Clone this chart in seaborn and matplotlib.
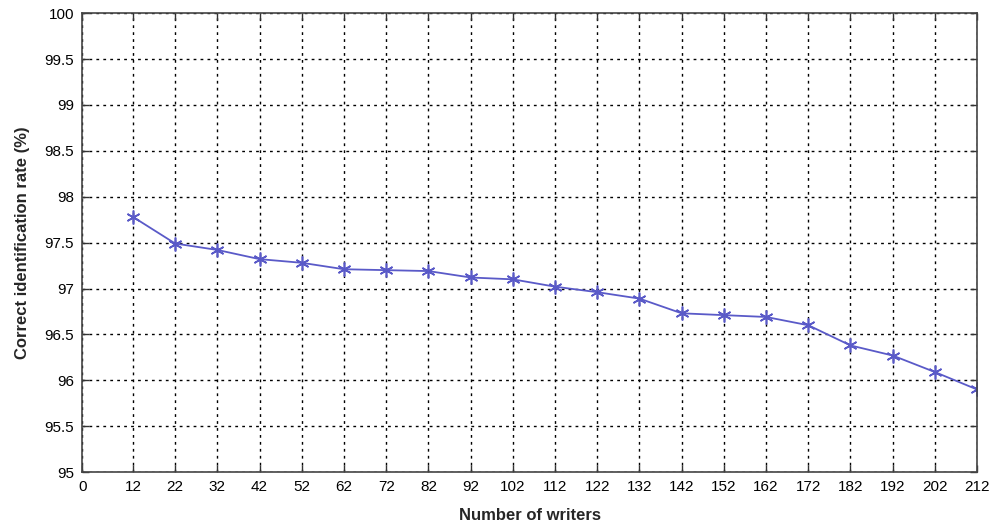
import matplotlib
matplotlib.use("Agg")
import matplotlib.pyplot as plt
import seaborn as sns
import numpy as np
import pandas as pd

writers = [12, 22, 32, 42, 52, 62, 72, 82, 92, 102, 112, 122, 132, 142, 152, 162, 172, 182, 192, 202, 212]
rate = [97.78, 97.49, 97.42, 97.32, 97.28, 97.21, 97.20, 97.19, 97.12, 97.10, 97.02, 96.96, 96.89,
        96.73, 96.71, 96.69, 96.60, 96.38, 96.27, 96.09, 95.90]
x_ticks = [0] + writers
y_ticks = [95, 95.5, 96, 96.5, 97, 97.5, 98, 98.5, 99, 99.5, 100]
y_labels = ['95', '95.5', '96', '96.5', '97', '97.5', '98', '98.5', '99', '99.5', '100']

df = pd.DataFrame({'writers': writers, 'rate': rate})

sns.set_style("ticks")
plt.rcParams['font.family'] = ['Liberation Sans', 'DejaVu Sans']

fig, ax = plt.subplots(figsize=(9.92, 5.24), dpi=100)
fig.subplots_adjust(left=0.083, right=0.985, top=0.975, bottom=0.099)

sns.lineplot(data=df, x='writers', y='rate', ax=ax, color='#5a5ac8', linewidth=1.3,
             marker=(6, 2, 0), markersize=10, markeredgecolor='#5a5ac8', markeredgewidth=1.2)

ax.set_xlim(0, 212)
ax.set_ylim(95, 100)
ax.set_xticks(x_ticks)
ax.set_xticklabels([str(t) for t in x_ticks], fontsize=11)
ax.set_yticks(y_ticks)
ax.set_yticklabels(y_labels, fontsize=11)
ax.tick_params(direction='in', top=True, right=True, length=5, width=1, colors='#333333', pad=6)
ax.tick_params(axis='both', labelcolor='black')
ax.grid(True, color='black', linestyle=(0, (2, 3)), linewidth=1)
for s in ax.spines.values():
    s.set_visible(True)
    s.set_linewidth(1.2)
    s.set_color('#444444')

ax.set_xlabel('Number of writers', fontsize=12, fontweight='bold', labelpad=10)
ax.set_ylabel('Correct identification rate (%)', fontsize=12, fontweight='bold', labelpad=10)

fig.savefig('out.png', dpi=100)
